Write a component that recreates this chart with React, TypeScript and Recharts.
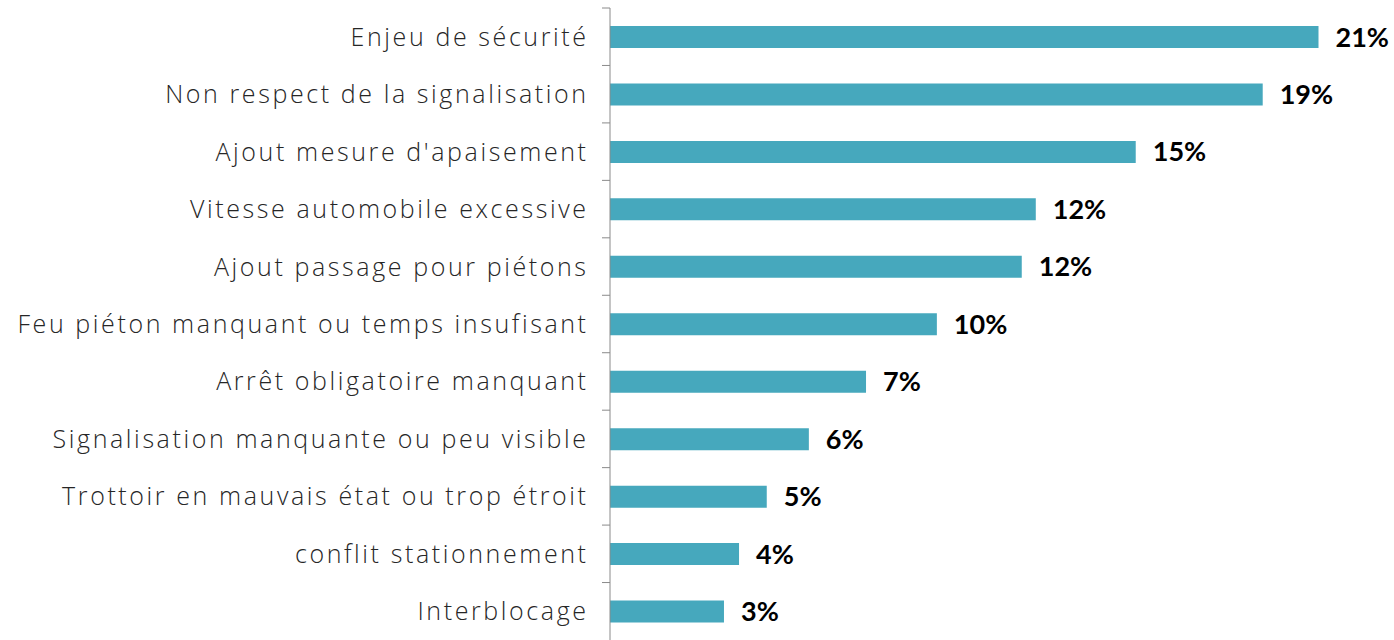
import React from "react";
import { BarChart, Bar, XAxis, YAxis, LabelList } from "recharts";

const categories = [
  "Enjeu de sécurité",
  "Non respect de la signalisation",
  "Ajout mesure d'apaisement",
  "Vitesse automobile excessive",
  "Ajout passage pour piétons",
  "Feu piéton manquant ou temps insufisant",
  "Arrêt obligatoire manquant",
  "Signalisation manquante ou peu visible",
  "Trottoir en mauvais état ou trop étroit",
  "conflit stationnement",
  "Interblocage",
];

const shares = [20.7, 19.07, 15.36, 12.44, 12.03, 9.55, 7.48, 5.81, 4.58, 3.77, 3.33];

const data = categories.map((name, i) => ({ name, share: shares[i] }));

const WIDTH = 1394;
const HEIGHT = 640;
const TOP = 8;
const BAND = (HEIGHT - TOP) / categories.length;

const CategoryTick = (props: any) => {
  const { x, y, payload } = props;
  const half = payload && payload.offset ? payload.offset : BAND / 2;
  return (
    <g>
      <line x1={x - 8} x2={x} y1={y - half} y2={y - half} stroke="#8a8a8a" strokeWidth={1} />
      <text
        x={x - 21.4}
        y={y}
        dy="0.36em"
        textAnchor="end"
        fill="#262626"
        fontFamily="'Open Sans', Lato, sans-serif"
        fontWeight={300}
        fontSize={25}
        letterSpacing={2.6}
      >
        {payload.value}
      </text>
    </g>
  );
};

export default function App() {
  return (
    <div style={{ position: "absolute", left: 0, top: 0 }}>
      <BarChart
        width={WIDTH}
        height={HEIGHT}
        data={data}
        layout="vertical"
        margin={{ top: TOP, right: 31, bottom: 0, left: 0 }}
      >
        <XAxis type="number" domain={[0, 22]} hide />
        <YAxis
          type="category"
          dataKey="name"
          width={610}
          tickLine={false}
          tickSize={0}
          tickMargin={0}
          axisLine={{ stroke: "#8a8a8a", strokeWidth: 1 }}
          tick={<CategoryTick />}
          interval={0}
        />
        <Bar dataKey="share" fill="#46a8bd" barSize={22} isAnimationActive={false}>
          <LabelList
            dataKey="share"
            position="right"
            offset={17}
            formatter={(v: any) => `${Math.round(Number(v))}%`}
            fill="#000"
            fontFamily="Lato, 'Open Sans', sans-serif"
            fontWeight={700}
            fontSize={27}
          />
        </Bar>
      </BarChart>
    </div>
  );
}
